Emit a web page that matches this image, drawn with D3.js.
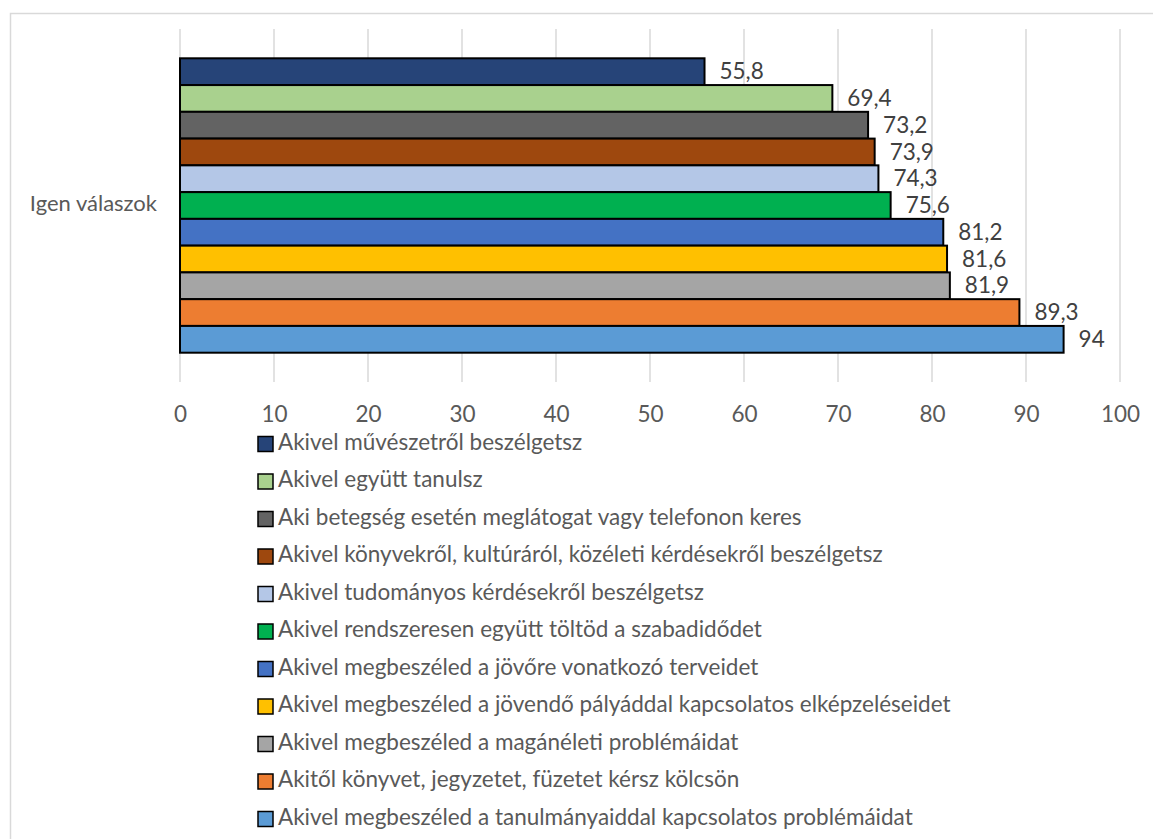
<!DOCTYPE html>
<html>
<head>
<meta charset="utf-8">
<script src="https://cdn.jsdelivr.net/npm/d3@7"></script>
<style>
  html, body { margin: 0; padding: 0; background: #fff; }
  svg { display: block; font-family: Lato, "Noto Sans", sans-serif; }
</style>
</head>
<body>
<svg id="chart" width="1153" height="839"></svg>
<script>
// Share of "yes" answers (%) for each kind of friend / companion
const category = "Igen válaszok";
const seriesNames = [
  "Akivel művészetről beszélgetsz",
  "Akivel együtt tanulsz",
  "Aki betegség esetén meglátogat vagy telefonon keres",
  "Akivel könyvekről, kultúráról, közéleti kérdésekről beszélgetsz",
  "Akivel tudományos kérdésekről beszélgetsz",
  "Akivel rendszeresen együtt töltöd a szabadidődet",
  "Akivel megbeszéled a jövőre vonatkozó terveidet",
  "Akivel megbeszéled a jövendő pályáddal kapcsolatos elképzeléseidet",
  "Akivel megbeszéled a magánéleti problémáidat",
  "Akitől könyvet, jegyzetet, füzetet kérsz kölcsön",
  "Akivel megbeszéled a tanulmányaiddal kapcsolatos problémáidat"
];
const seriesValues = [55.8, 69.4, 73.2, 73.9, 74.3, 75.6, 81.2, 81.6, 81.9, 89.3, 94];
const valueLabels = ["55,8", "69,4", "73,2", "73,9", "74,3", "75,6", "81,2", "81,6", "81,9", "89,3", "94"];
const seriesColors = ["#264478", "#A9D18E", "#636363", "#9E480E", "#B4C7E7", "#00B050",
                      "#4472C4", "#FFC000", "#A5A5A5", "#ED7D31", "#5B9BD5"];
const xTicks = [0, 10, 20, 30, 40, 50, 60, 70, 80, 90, 100];

const svg = d3.select("#chart");
const fontSize = 22.5;

// outer chart frame
svg.append("rect")
  .attr("x", 10.5).attr("y", 13.5)
  .attr("width", 1160).attr("height", 860)
  .attr("fill", "none").attr("stroke", "#d9d9d9").attr("stroke-width", 1.5);

const plot = { left: 180, right: 1120, top: 29, bottom: 382 };

const x = d3.scaleLinear().domain([0, 100]).range([plot.left, plot.right]);

// one category band, series bars side by side inside it
const yCat = d3.scaleBand().domain([category]).range([plot.top, plot.bottom]).paddingInner(0).paddingOuter(0);
const inset = 29.3;
const ySer = d3.scaleBand().domain(seriesNames)
  .range([yCat(category) + inset, yCat(category) + yCat.bandwidth() - inset])
  .padding(0);

// vertical gridlines
svg.append("g")
  .selectAll("line")
  .data(xTicks)
  .join("line")
  .attr("x1", d => x(d)).attr("x2", d => x(d))
  .attr("y1", plot.top).attr("y2", plot.bottom)
  .attr("stroke", "#d9d9d9").attr("stroke-width", 1.5);

// x axis tick labels
const xAxis = d3.axisBottom(x).tickValues(xTicks).tickSize(0).tickPadding(0).tickFormat(d3.format("d"));
const gx = svg.append("g")
  .attr("transform", `translate(0, ${plot.bottom + 24})`)
  .call(xAxis);
gx.select(".domain").remove();
gx.selectAll("text")
  .attr("font-family", "Lato, 'Noto Sans', sans-serif")
  .attr("font-size", fontSize).attr("fill", "#595959");

// category label
svg.append("text")
  .attr("x", 157).attr("y", yCat(category) + yCat.bandwidth() / 2)
  .attr("text-anchor", "end").attr("dominant-baseline", "middle")
  .attr("font-size", fontSize - 0.5).attr("fill", "#595959")
  .text(category);

// bars
const data = seriesNames.map((name, i) => ({ name, value: seriesValues[i], label: valueLabels[i], color: seriesColors[i] }));

svg.append("g")
  .selectAll("rect")
  .data(data)
  .join("rect")
  .attr("x", x(0))
  .attr("y", d => ySer(d.name))
  .attr("width", d => x(d.value) - x(0))
  .attr("height", ySer.bandwidth())
  .attr("fill", d => d.color)
  .attr("stroke", "#000").attr("stroke-width", 2);

// value labels
svg.append("g")
  .selectAll("text")
  .data(data)
  .join("text")
  .attr("x", d => x(d.value) + 15)
  .attr("y", d => ySer(d.name) + ySer.bandwidth() / 2 + 2)
  .attr("dominant-baseline", "middle")
  .attr("font-size", fontSize).attr("fill", "#404040")
  .text(d => d.label);

// legend
const legendTop = 444, legendStep = 37.5;
const legend = svg.append("g")
  .selectAll("g")
  .data(data)
  .join("g")
  .attr("transform", (d, i) => `translate(258, ${legendTop + i * legendStep})`);

legend.append("rect")
  .attr("x", 0).attr("y", -7.5)
  .attr("width", 15).attr("height", 15)
  .attr("fill", d => d.color)
  .attr("stroke", "#000").attr("stroke-width", 1.5);

legend.append("text")
  .attr("x", 20).attr("y", 0)
  .attr("dominant-baseline", "middle")
  .attr("font-size", fontSize).attr("fill", "#595959")
  .text(d => d.name);
</script>
</body>
</html>
